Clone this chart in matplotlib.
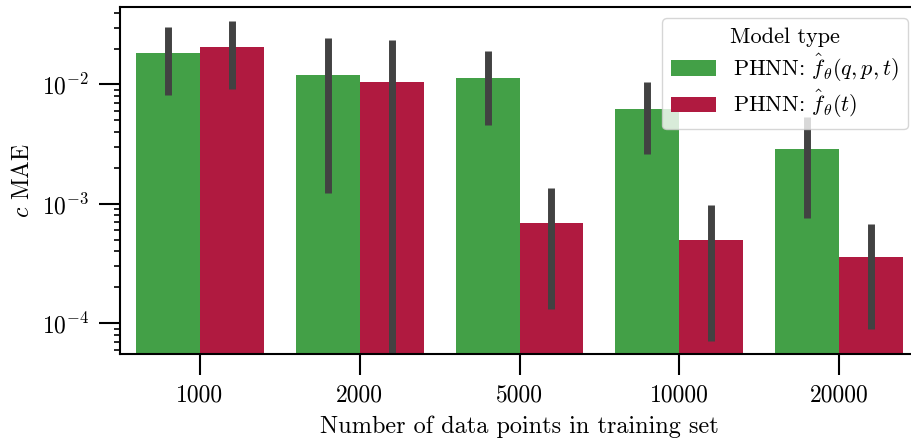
import matplotlib
matplotlib.use("Agg")
import matplotlib.pyplot as plt
import numpy as np

plt.rcParams['font.family'] = 'serif'
plt.rcParams['font.serif'] = ['cmr10']
plt.rcParams['mathtext.fontset'] = 'cm'
plt.rcParams['axes.formatter.use_mathtext'] = True

sizes = ['1000', '2000', '5000', '10000', '20000']
labels = [r'PHNN: $\hat{f}_\theta(q,p,t)$', r'PHNN: $\hat{f}_\theta(t)$']

# mean MAE and error bar ends
full_mean = [0.0185, 0.0121, 0.0114, 0.00619, 0.00287]
full_lo = [0.0082, 0.00123, 0.00455, 0.0026, 0.000755]
full_hi = [0.0304, 0.0247, 0.0192, 0.0104, 0.00534]

t_mean = [0.0207, 0.0104, 0.000695, 0.000501, 0.000362]
t_lo = [0.00909, 3e-5, 0.000132, 7.08e-5, 8.9e-5]
t_hi = [0.0341, 0.0237, 0.00135, 0.00098, 0.00068]

colors = ['#43a047', '#b01a40']
err_color = '#424242'

fig = plt.figure(figsize=(9.11, 4.41), dpi=100)
W, H = 911, 441
x0, x1, ytop, ybot = 120, 919, 7.3, 354
ax = fig.add_axes([x0 / W, 1 - ybot / H, (x1 - x0) / W, (ybot - ytop) / H])
ax.set_yscale('log')

x = np.arange(len(sizes))
w = 0.4
series = [(full_mean, full_lo, full_hi), (t_mean, t_lo, t_hi)]
for i, (m, lo, hi) in enumerate(series):
    xs = x - w / 2 + i * w
    ax.bar(xs, m, width=w, color=colors[i], label=labels[i], zorder=1)
    for xi, l, h in zip(xs, lo, hi):
        ax.plot([xi, xi], [l, h], color=err_color, lw=5, solid_capstyle='butt', zorder=2)

ax.set_xlim(-0.5, len(sizes) - 0.5)
ax.set_ylim(5.53e-5, 0.0443)
ax.set_xticks(x)
ax.set_xticklabels(sizes)

ax.tick_params(axis='both', which='major', length=15, width=1.5, labelsize=17, pad=7)
ax.tick_params(axis='y', which='minor', length=4.5, width=1.2)
for s in ax.spines.values():
    s.set_linewidth(1.5)

ax.set_xlabel('Number of data points in training set', fontsize=17.5, labelpad=6)
ax.set_ylabel('$c$ MAE', fontsize=17, labelpad=6)

ax.legend(title='Model type', loc='upper right', fontsize=16, title_fontsize=16,
          labelspacing=0.2)

fig.savefig('out.png', dpi=100)
